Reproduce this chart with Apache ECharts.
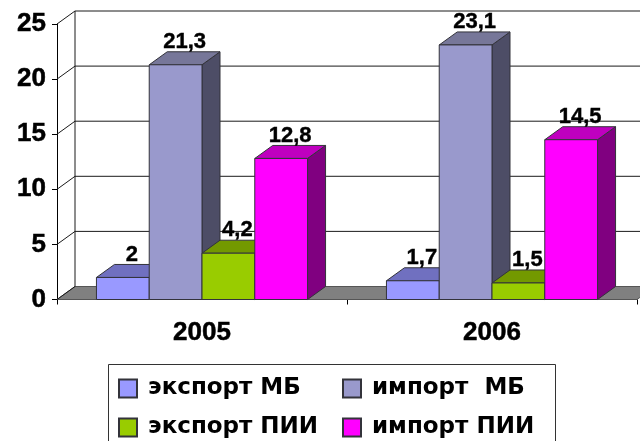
<!DOCTYPE html>
<html>
<head>
<meta charset="utf-8">
<script src="https://cdn.jsdelivr.net/npm/echarts@6/dist/echarts.min.js"></script>
<style>
  html, body { margin: 0; padding: 0; background: #fff; overflow: hidden; }
  #chart { width: 640px; height: 441px; }
</style>
</head>
<body>
<div id="chart"></div>
<script>
var years = ['2005', '2006'];
var yTicks = [0, 5, 10, 15, 20, 25];
var exportMB = [2, 1.7];
var importMB = [21.3, 23.1];
var exportFDI = [4.2, 1.5];
var importFDI = [12.8, 14.5];

var FONT = '"Liberation Sans", Arial, sans-serif';
var DEPTH_X = 18;
var DEPTH_Y = -13;
var BAR_SHARE = 0.182;
var EDGE = '#33333a';

// walls and floor of the fake 3d box
const renderWall = (params, api) => {
  const box = params.coordSys;
  const p = api.coord([0, api.value(1)]);
  const y = p[1];
  const left = box.x;
  const right = box.x + box.width;
  const line = (x1, y1, x2, y2) => ({
    type: 'line',
    shape: { x1: x1, y1: y1, x2: x2, y2: y2 },
    style: { stroke: '#1a1a1a', lineWidth: 1 }
  });
  const children = [];
  if (api.value(1) === 0) {
    children.push({
      type: 'polygon',
      shape: { points: [[left, y], [left + DEPTH_X, y + DEPTH_Y], [right + DEPTH_X, y + DEPTH_Y], [right, y]] },
      style: { fill: '#808080', stroke: '#555', lineWidth: 1 }
    });
    const top = api.coord([0, 25])[1];
    children.push(line(left + DEPTH_X, top + DEPTH_Y, left + DEPTH_X, y + DEPTH_Y));
  } else {
    children.push(line(left + DEPTH_X, y + DEPTH_Y, right + DEPTH_X, y + DEPTH_Y));
  }
  children.push(line(left, y, left + DEPTH_X, y + DEPTH_Y));
  return { type: 'group', children: children };
};

const makeBar = (name, values, index, front, top, side) => ({
  type: 'custom',
  name: name,
  itemStyle: { color: front, borderColor: EDGE, borderWidth: 1 },
  data: values.map((v, i) => [i, v]),
  encode: { x: 0, y: 1 },
  clip: false,
  renderItem: (params, api) => {
    const value = api.value(1);
    const tip = api.coord([api.value(0), value]);
    const base = api.coord([api.value(0), 0]);
    const w = api.size([1, 0])[0] * BAR_SHARE;
    const x = tip[0] - 2 * w + index * w;
    const y = tip[1];
    const style = fill => ({ fill: fill, stroke: EDGE, lineWidth: 1 });
    return {
      type: 'group',
      children: [
        {
          type: 'polygon',
          shape: { points: [[x + w, y], [x + w + DEPTH_X, y + DEPTH_Y], [x + w + DEPTH_X, base[1] + DEPTH_Y], [x + w, base[1]]] },
          style: style(side)
        },
        {
          type: 'polygon',
          shape: { points: [[x, y], [x + DEPTH_X, y + DEPTH_Y], [x + w + DEPTH_X, y + DEPTH_Y], [x + w, y]] },
          style: style(top)
        },
        {
          type: 'rect',
          shape: { x: x, y: y, width: w, height: base[1] - y },
          style: style(front)
        },
        {
          type: 'text',
          z2: 20,
          style: {
            x: x + w / 2 + DEPTH_X / 2,
            y: y + DEPTH_Y + 1,
            text: String(value).replace('.', ','),
            font: 'bold 22px ' + FONT,
            fill: '#000',
            stroke: '#000',
            lineWidth: 0.4,
            align: 'center',
            verticalAlign: 'bottom'
          }
        }
      ]
    };
  }
});

const legendBase = top => ({
  orient: 'vertical',
  top: top,
  itemWidth: 18,
  itemHeight: 18,
  itemGap: 16,
  padding: 0,
  icon: 'rect',
  selectedMode: false,
  textStyle: { fontFamily: '"DejaVu Sans"', fontWeight: 'bold', fontSize: 23, color: '#000', padding: [0, 0, 0, 6] }
});

const chart = echarts.init(document.getElementById('chart'), null, { renderer: 'canvas' });
chart.setOption({
  animation: false,
  backgroundColor: '#fff',
  grid: { left: 57, top: 24, width: 580, height: 275.5 },
  xAxis: {
    type: 'category',
    data: years,
    axisLine: { lineStyle: { color: '#000', width: 1 } },
    axisTick: { show: true, length: 5, lineStyle: { color: '#000' } },
    axisLabel: { fontFamily: FONT, fontWeight: 'bold', fontSize: 26, color: '#000', margin: 20, textBorderColor: '#000', textBorderWidth: 0.5 }
  },
  yAxis: {
    type: 'value',
    min: 0,
    max: 25,
    interval: 5,
    splitLine: { show: false },
    axisLine: { show: true, lineStyle: { color: '#000', width: 1 } },
    axisTick: { show: true, length: 5, lineStyle: { color: '#000' } },
    axisLabel: { fontFamily: FONT, fontWeight: 'bold', fontSize: 26, color: '#000', margin: 11, padding: [14, 0, 0, 0], textBorderColor: '#000', textBorderWidth: 0.5 }
  },
  legend: [
    Object.assign(legendBase(377), { left: 118, data: ['экспорт МБ', 'экспорт ПИИ'] }),
    Object.assign(legendBase(377), { left: 342, data: ['импорт  МБ', 'импорт ПИИ'] })
  ],
  graphic: [{
    type: 'rect',
    z: -1,
    shape: { x: 108.5, y: 364.5, width: 447, height: 90 },
    style: { fill: '#fff', stroke: '#333', lineWidth: 1 }
  }],
  series: [
    {
      type: 'custom',
      data: yTicks.map(v => [0, v]),
      encode: { x: 0, y: 1 },
      clip: false,
      silent: true,
      renderItem: renderWall
    },
    makeBar('экспорт МБ', exportMB, 0, '#9999ff', '#7070c0', '#50508a'),
    makeBar('импорт  МБ', importMB, 1, '#9999cc', '#777799', '#4d4d66'),
    makeBar('экспорт ПИИ', exportFDI, 2, '#99cc00', '#739900', '#4d6600'),
    makeBar('импорт ПИИ', importFDI, 3, '#ff00ff', '#bf00bf', '#800080')
  ]
});
</script>
</body>
</html>
